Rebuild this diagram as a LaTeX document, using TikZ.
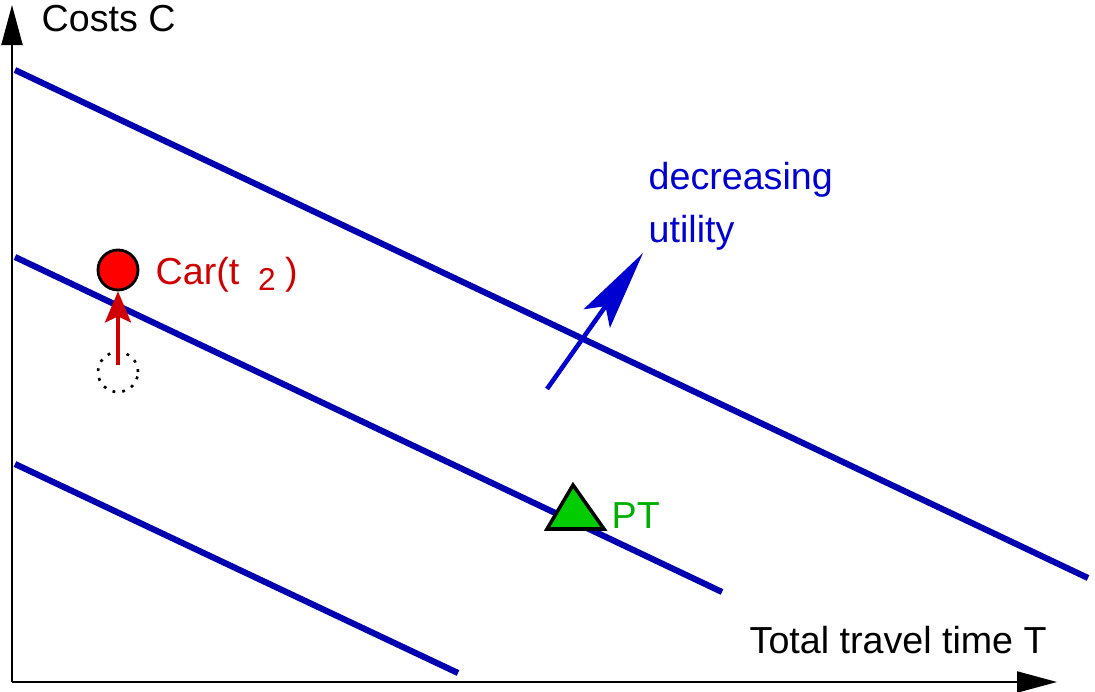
\documentclass[tikz,border=0pt]{standalone}
\usepackage{fontspec}
\setmainfont{Liberation Sans}
\usetikzlibrary{arrows.meta, positioning, calc}
\definecolor{isoblue}{RGB}{0, 0, 176}
\definecolor{utilblue}{RGB}{0, 0, 208}
\definecolor{carred}{RGB}{208, 0, 0}
\definecolor{ptgreen}{RGB}{0, 176, 0}
\definecolor{ptfill}{RGB}{0, 204, 0}

\begin{document}
\begin{tikzpicture}[x=0.01cm, y=-0.01cm, font=\fontsize{10.7pt}{15pt}\selectfont,
	lbl/.style={inner sep=0pt, anchor=base west},
	iso/.style={line width=1.75pt, draw=isoblue},
	axis/.style={line width=0.6pt, -{Triangle[length=0.4cm, width=0.21cm]}}]
	\useasboundingbox (0,0) rectangle (1095,692);
	
	% axes
	\coordinate (o) at (12,682);
	\draw[axis] (o) -- (1057,682);
	\draw[axis] (o) -- (12,5);
	\node[lbl] (costs) at (41,32) {Costs C};
	\node[lbl] (time) at (749,653) {Total travel time T};
	
	% lines of equal utility
	\draw[iso] (15,70) -- (1088,578);
	\draw[iso] (15,257) -- (722,592);
	\draw[iso] (15,464) -- (458,673);
	
	% car, before and after
	\node[circle, draw=black, dash pattern=on 0.8pt off 2pt, line width=0.75pt, minimum size=0.4cm, inner sep=0pt] (oldcar) at (118,372) {};
	\node[circle, fill=red, draw=black, line width=0.8pt, minimum size=0.4cm, inner sep=0pt] (car) at (118,270) {};
	\draw[carred, line width=1pt, shorten <=0.07cm, -{Stealth[length=0.31cm, width=0.26cm, inset=0.06cm]}] (oldcar.center) -- (car.south);
	\node[lbl, text=carred] (carlbl) at (155,285) {Car(t\hspace{0.5em}\raisebox{-0.14em}{\fontsize{9pt}{10pt}\selectfont 2}\hspace{0.25em})};
	
	% public transport
	\draw[fill=ptfill, line width=1pt] (573,485) -- (604,529) -- (547,529) -- cycle;
	\node[lbl, text=ptgreen] (ptlbl) at (611,528) {PT};
	
	% direction of decreasing utility
	\node[inner sep=0pt, anchor=north west, align=left, text=utilblue] (util) at (648,162) {decreasing\\utility};
	\coordinate (utiltail) at (547,389);
	\coordinate (utiltip) at (643,253);
	\draw[utilblue, line width=1.3pt, -{Stealth[length=0.8cm, width=0.32cm, inset=0.15cm]}] (utiltail) -- (utiltip);
\end{tikzpicture}
\end{document}
